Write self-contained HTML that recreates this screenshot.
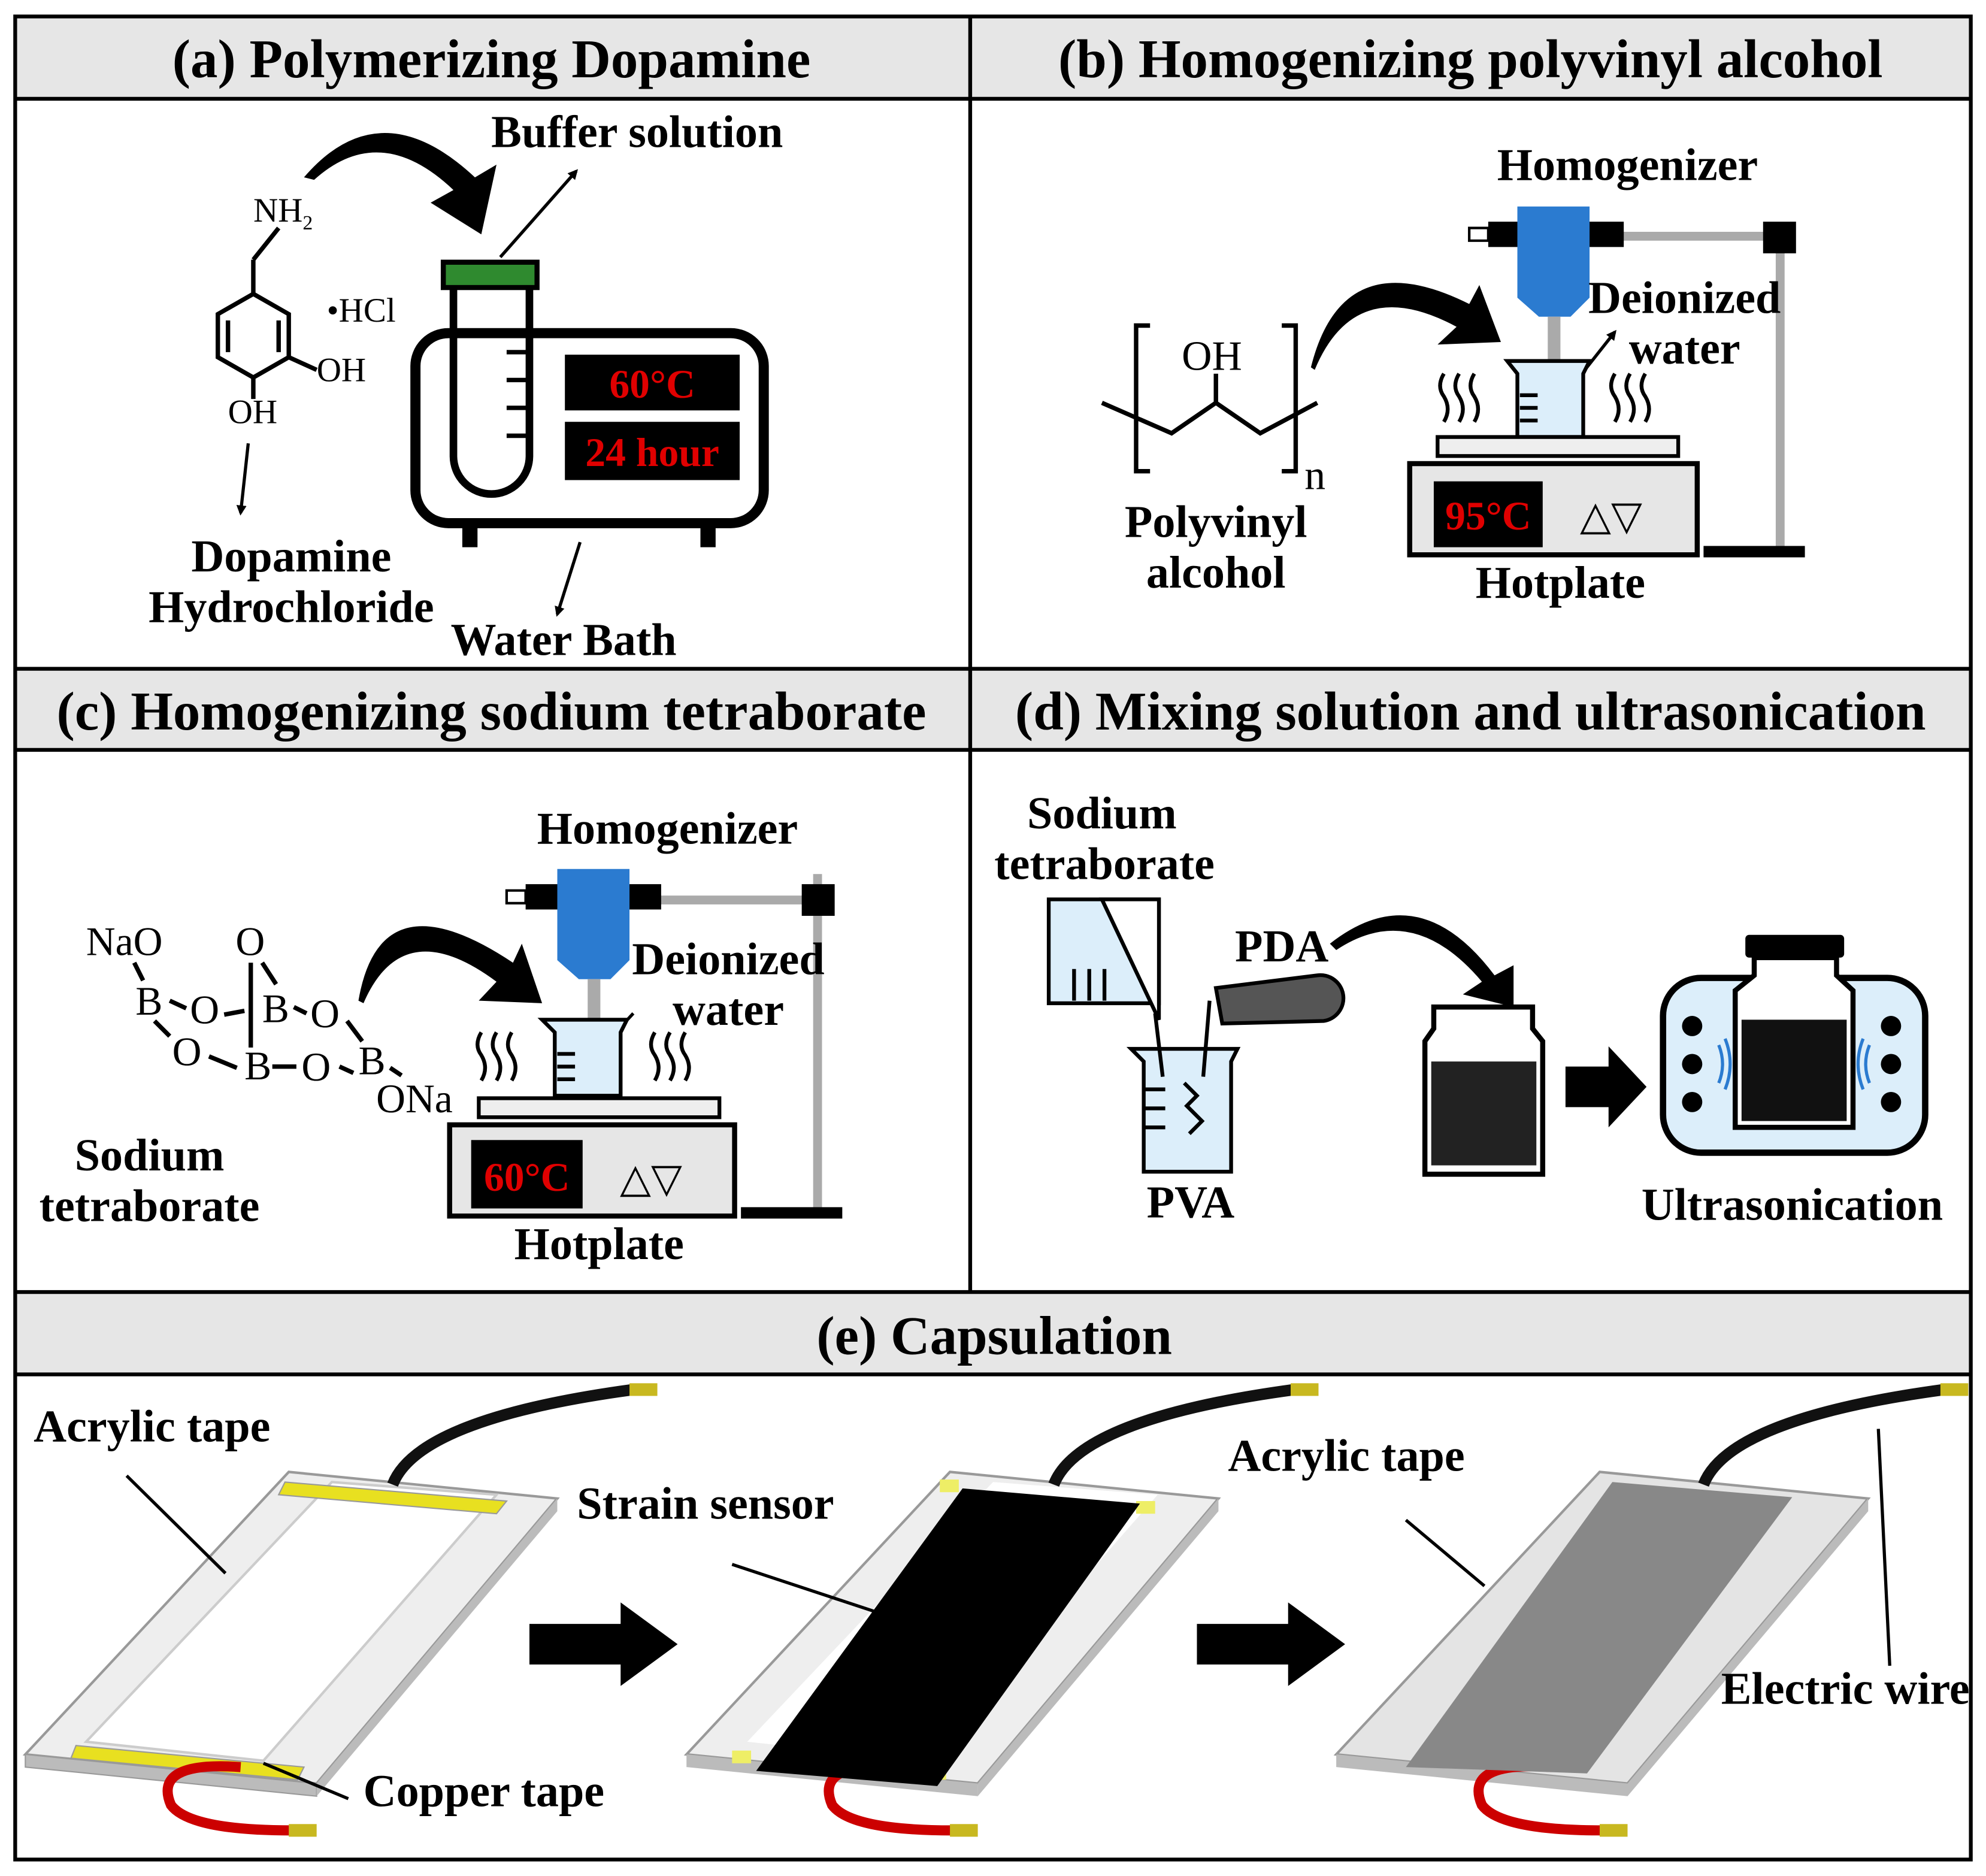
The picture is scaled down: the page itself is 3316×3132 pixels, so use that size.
<!DOCTYPE html>
<html><head><meta charset="utf-8"><style>
html,body{margin:0;padding:0;background:#fff;}
svg{display:block;}
text{font-family:"Liberation Serif",serif;font-weight:bold;fill:#000;}
.n{font-weight:normal;}
</style></head><body>
<svg width="3316" height="3132" viewBox="0 0 1568 1481" preserveAspectRatio="none" xmlns="http://www.w3.org/2000/svg">
<defs>
<marker id="ah" markerWidth="8" markerHeight="8" refX="6" refY="4" orient="auto" markerUnits="userSpaceOnUse"><path d="M0,0 L8,4 L0,8 z" fill="#000"/></marker>
</defs>
<rect x="0" y="0" width="1568" height="1481" fill="#fff"/>
<rect x="12" y="14" width="1544" height="64" fill="#e6e6e6"/>
<rect x="12" y="528" width="1544" height="64" fill="#e6e6e6"/>
<rect x="12" y="1020" width="1544" height="65" fill="#e6e6e6"/>
<g stroke="#000" stroke-width="3" fill="none">
<rect x="12" y="13" width="1544" height="1455"/>
<line x1="12" y1="78" x2="1556" y2="78"/>
<line x1="12" y1="528" x2="1556" y2="528"/>
<line x1="12" y1="592" x2="1556" y2="592"/>
<line x1="12" y1="1020" x2="1556" y2="1020"/>
<line x1="12" y1="1085" x2="1556" y2="1085"/>
<line x1="766" y1="13" x2="766" y2="1020"/>
</g>
<g font-size="43" text-anchor="middle">
<text x="388" y="61">(a) Polymerizing Dopamine</text>
<text x="1161" y="61">(b) Homogenizing polyvinyl alcohol</text>
<text x="388" y="576">(c) Homogenizing sodium tetraborate</text>
<text x="1161" y="576">(d) Mixing solution and ultrasonication</text>
<text x="785" y="1069">(e) Capsulation</text>
</g>

<!-- (a) -->
<g stroke="#000" stroke-width="3.5" fill="none">
<line x1="220" y1="180" x2="200" y2="205"/>
<line x1="200" y1="205" x2="200" y2="232"/>
<polygon points="200,232 228,248 228,282 200,298 172,282 172,248"/>
<line x1="180" y1="253" x2="180" y2="278"/>
<line x1="220" y1="253" x2="220" y2="278"/>
<line x1="228" y1="282" x2="250" y2="292"/>
<line x1="200" y1="298" x2="200" y2="315"/>
<line x1="196" y1="350" x2="190" y2="405" marker-end="url(#ah)" stroke-width="2.5"/>
<line x1="395" y1="203" x2="455" y2="135" marker-end="url(#ah)" stroke-width="2.5"/>
<line x1="458" y1="428" x2="440" y2="485" marker-end="url(#ah)" stroke-width="2.5"/>
<rect x="328" y="263" width="275" height="150" rx="26" stroke-width="8"/>
<path d="M358,225 L358,360 A30,30 0 0 0 418,360 L418,225" stroke-width="6"/>
<line x1="400" y1="278" x2="416" y2="278"/><line x1="400" y1="300" x2="416" y2="300"/><line x1="400" y1="322" x2="416" y2="322"/><line x1="400" y1="344" x2="416" y2="344"/>
</g>
<path d="M240,140 Q300,70 375,140 L392,130 L380,185 L340,160 L358,150 Q300,95 248,142 z" fill="#000"/>
<rect x="365" y="412" width="12" height="20" fill="#000"/><rect x="553" y="412" width="12" height="20" fill="#000"/>
<rect x="348" y="205" width="78" height="24" fill="#000"/><rect x="352" y="209" width="70" height="16" fill="#2f8a2f"/>
<rect x="446" y="280" width="138" height="44" fill="#000"/>
<rect x="446" y="333" width="138" height="46" fill="#000"/>
<g font-size="32" text-anchor="middle"><text x="515" y="314" style="fill:#e00000">60°C</text><text x="515" y="368" style="fill:#e00000">24 hour</text></g>
<g font-size="27">
<text x="200" y="175" class="n">NH<tspan font-size="16" dy="6">2</tspan></text>
<text x="258" y="254" class="n">•HCl</text>
<text x="250" y="301" class="n">OH</text>
<text x="180" y="334" class="n">OH</text>
</g>
<g font-size="36" text-anchor="middle">
<text x="503" y="116">Buffer solution</text>
<text x="230" y="451">Dopamine</text>
<text x="230" y="491">Hydrochloride</text>
<text x="445" y="517">Water Bath</text>
</g>

<!-- (b) -->
<g stroke="#000" stroke-width="3.5" fill="none">
<path d="M908,257 L897,257 L897,372 L908,372"/>
<path d="M1012,257 L1023,257 L1023,372 L1012,372"/>
<polyline points="870,318 925,342 960,318 995,342 1040,318"/>
<line x1="960" y1="295" x2="960" y2="318"/>
<line x1="1245" y1="300" x2="1275" y2="262" marker-end="url(#ah)" stroke-width="2.5"/>
</g>
<g font-size="33"><text x="933" y="292" class="n">OH</text><text x="1030" y="386" class="n">n</text></g>
<path d="M1035,290 Q1060,190 1160,240 L1168,225 L1185,270 L1135,272 L1150,258 Q1070,215 1038,292 z" fill="#000"/>
<rect x="1402" y="180" width="7" height="255" fill="#aaa"/>
<rect x="1345" y="431" width="80" height="9" fill="#000"/>
<rect x="1280" y="183" width="125" height="7" fill="#aaa"/>
<rect x="1392" y="175" width="26" height="25" fill="#000"/>
<rect x="1175" y="175" width="107" height="20" fill="#000"/>
<path d="M1160,180 L1175,180 L1175,190 L1160,190 z" fill="none" stroke="#000" stroke-width="2"/>
<path d="M1198,163 L1255,163 L1255,235 L1240,250 L1215,250 L1198,235 z" fill="#2b7bd0"/>
<rect x="1222" y="250" width="10" height="70" fill="#aaa"/>
<path d="M1190,285 L1255,285 L1250,295 L1250,345 L1198,345 L1198,295 z" fill="#dceefa" stroke="#000" stroke-width="3"/>
<g stroke="#000" stroke-width="3" fill="none">
<line x1="1200" y1="312" x2="1214" y2="312"/><line x1="1200" y1="322" x2="1214" y2="322"/><line x1="1200" y1="332" x2="1214" y2="332"/>
<path d="M1140,295 q-6,10 0,18 q6,10 0,20 M1152,295 q-6,10 0,18 q6,10 0,20 M1164,295 q-6,10 0,18 q6,10 0,20 M1275,295 q-6,10 0,18 q6,10 0,20 M1287,295 q-6,10 0,18 q6,10 0,20 M1299,295 q-6,10 0,18 q6,10 0,20"/>
</g>
<rect x="1135" y="345" width="190" height="15" fill="#eee" stroke="#000" stroke-width="3"/>
<rect x="1113" y="366" width="227" height="72" fill="#e6e6e6" stroke="#000" stroke-width="4"/>
<rect x="1132" y="380" width="86" height="52" fill="#000"/>
<text x="1175" y="418" font-size="32" text-anchor="middle" style="fill:#e00000">95°C</text>
<text x="1272" y="418" font-size="32" text-anchor="middle" class="n">△▽</text>
<g font-size="36" text-anchor="middle">
<text x="1285" y="142">Homogenizer</text>
<text x="1330" y="247">Deionized</text>
<text x="1330" y="287">water</text>
<text x="960" y="424">Polyvinyl</text>
<text x="960" y="464">alcohol</text>
<text x="1232" y="472">Hotplate</text>
</g>

<!-- (c) -->
<g font-size="32">
<text x="68" y="754" class="n">NaO</text><text x="186" y="754" class="n">O</text>
<text x="107" y="801" class="n">B</text><text x="150" y="808" class="n">O</text>
<text x="207" y="807" class="n">B</text><text x="245" y="811" class="n">O</text>
<text x="136" y="841" class="n">O</text><text x="193" y="852" class="n">B</text>
<text x="238" y="853" class="n">O</text><text x="283" y="848" class="n">B</text>
<text x="297" y="878" class="n">ONa</text>
</g>
<g stroke="#000" stroke-width="3.5" fill="none">
<line x1="106" y1="760" x2="113" y2="774"/>
<line x1="134" y1="790" x2="147" y2="796"/>
<line x1="198" y1="760" x2="198" y2="827"/>
<line x1="207" y1="760" x2="218" y2="777"/>
<line x1="177" y1="801" x2="193" y2="798"/>
<line x1="232" y1="795" x2="242" y2="800"/>
<line x1="122" y1="806" x2="134" y2="818"/>
<line x1="165" y1="834" x2="187" y2="843"/>
<line x1="215" y1="842" x2="234" y2="842"/>
<line x1="268" y1="842" x2="279" y2="847"/>
<line x1="274" y1="806" x2="286" y2="822"/>
<line x1="308" y1="843" x2="317" y2="849"/>
<line x1="460" y1="843" x2="500" y2="800" stroke-width="2.5"/>
</g>
<path d="M283,790 Q300,690 405,760 L412,745 L428,792 L378,790 L392,775 Q318,720 287,792 z" fill="#000"/>
<rect x="642" y="690" width="7" height="265" fill="#aaa"/>
<rect x="585" y="953" width="80" height="9" fill="#000"/>
<rect x="520" y="707" width="125" height="7" fill="#aaa"/>
<rect x="633" y="698" width="26" height="25" fill="#000"/>
<rect x="415" y="698" width="107" height="20" fill="#000"/>
<path d="M400,703 L415,703 L415,713 L400,713 z" fill="none" stroke="#000" stroke-width="2"/>
<path d="M440,686 L497,686 L497,758 L482,773 L457,773 L440,758 z" fill="#2b7bd0"/>
<rect x="464" y="773" width="10" height="70" fill="#aaa"/>
<path d="M428,805 L495,805 L490,815 L490,865 L438,865 L438,815 z" fill="#dceefa" stroke="#000" stroke-width="3"/>
<g stroke="#000" stroke-width="3" fill="none">
<line x1="440" y1="832" x2="454" y2="832"/><line x1="440" y1="842" x2="454" y2="842"/><line x1="440" y1="852" x2="454" y2="852"/>
<path d="M380,815 q-6,10 0,18 q6,10 0,20 M392,815 q-6,10 0,18 q6,10 0,20 M404,815 q-6,10 0,18 q6,10 0,20 M517,815 q-6,10 0,18 q6,10 0,20 M529,815 q-6,10 0,18 q6,10 0,20 M541,815 q-6,10 0,18 q6,10 0,20"/>
</g>
<rect x="378" y="867" width="190" height="15" fill="#eee" stroke="#000" stroke-width="3"/>
<rect x="355" y="888" width="225" height="72" fill="#e6e6e6" stroke="#000" stroke-width="4"/>
<rect x="372" y="900" width="88" height="54" fill="#000"/>
<text x="416" y="940" font-size="32" text-anchor="middle" style="fill:#e00000">60°C</text>
<text x="514" y="941" font-size="32" text-anchor="middle" class="n">△▽</text>
<g font-size="36" text-anchor="middle">
<text x="527" y="666">Homogenizer</text>
<text x="575" y="769">Deionized</text>
<text x="575" y="809">water</text>
<text x="118" y="924">Sodium</text>
<text x="118" y="964">tetraborate</text>
<text x="473" y="994">Hotplate</text>
</g>

<!-- (d) -->
<g font-size="36" text-anchor="middle">
<text x="870" y="654">Sodium</text>
<text x="872" y="694">tetraborate</text>
<text x="1012" y="759">PDA</text>
<text x="940" y="961">PVA</text>
<text x="1415" y="963">Ultrasonication</text>
</g>
<path d="M828,710 L915,710 L915,792 L828,792 z" fill="#dceefa" stroke="#000" stroke-width="3"/>
<path d="M870,710 L915,710 L915,805 z" fill="#fff" stroke="#000" stroke-width="3"/>
<g stroke="#000" stroke-width="3"><line x1="848" y1="765" x2="848" y2="790"/><line x1="860" y1="765" x2="860" y2="790"/><line x1="872" y1="765" x2="872" y2="790"/></g>
<path d="M893,828 L977,828 L972,838 L972,925 L903,925 L903,838 z" fill="#dceefa" stroke="#000" stroke-width="3"/>
<g stroke="#000" stroke-width="3" fill="none">
<line x1="903" y1="860" x2="920" y2="860"/><line x1="903" y1="875" x2="920" y2="875"/><line x1="903" y1="890" x2="920" y2="890"/>
<line x1="912" y1="800" x2="918" y2="850"/><line x1="955" y1="790" x2="950" y2="850"/>
<path d="M935,855 l10,10 l-8,8 l12,12 l-10,10"/>
</g>
<path d="M960,780 L1040,770 A18,18 0 0 1 1045,806 L965,808 z" fill="#555" stroke="#000" stroke-width="3"/>
<path d="M1050,745 Q1120,690 1180,770 L1195,762 L1195,795 L1155,785 L1170,775 Q1115,710 1055,750 z" fill="#000"/>
<path d="M1132,795 L1210,795 L1210,812 L1218,822 L1218,927 L1125,927 L1125,822 L1132,812 z" fill="#fff" stroke="#000" stroke-width="4"/>
<rect x="1130" y="838" width="83" height="82" fill="#222"/>
<path d="M1236,842 L1270,842 L1270,826 L1300,858 L1270,890 L1270,874 L1236,874 z" fill="#000"/>
<rect x="1313" y="772" width="207" height="138" rx="30" fill="#dceefa" stroke="#000" stroke-width="5"/>
<rect x="1378" y="738" width="78" height="18" rx="3" fill="#000"/>
<path d="M1385,756 L1450,756 L1450,770 L1463,782 L1463,890 L1370,890 L1370,782 L1385,770 z" fill="#fff" stroke="#000" stroke-width="4"/>
<rect x="1375" y="805" width="83" height="80" fill="#111"/>
<g fill="#000"><circle cx="1336" cy="810" r="8"/><circle cx="1336" cy="840" r="8"/><circle cx="1336" cy="870" r="8"/><circle cx="1493" cy="810" r="8"/><circle cx="1493" cy="840" r="8"/><circle cx="1493" cy="870" r="8"/></g>
<g stroke="#2b7bd0" stroke-width="2.5" fill="none"><path d="M1357,825 q6,15 0,30 M1362,820 q8,20 0,40"/><path d="M1476,825 q-6,15 0,30 M1471,820 q-8,20 0,40"/></g>

<!-- (e) -->
<g>
<polygon points="20,1385 250,1408 440,1183 228,1162" fill="#eee" stroke="#999" stroke-width="2"/>
<polygon points="20,1385 250,1408 250,1418 20,1395" fill="#bbb" stroke="#999" stroke-width="1"/>
<polygon points="250,1408 440,1183 440,1193 250,1418" fill="#bbb"/>
<polygon points="68,1375 208,1390 392,1180 262,1170" fill="#fff" stroke="#ccc" stroke-width="2"/>
</g>
<path d="M225,1170 L400,1185 L392,1195 L220,1180 z" fill="#e8e020" stroke="#999"/>
<path d="M60,1378 L240,1395 L235,1405 L56,1388 z" fill="#e8e020" stroke="#999"/>
<path d="M310,1172 Q330,1120 500,1097" stroke="#111" stroke-width="9" fill="none"/>
<rect x="497" y="1092" width="22" height="10" fill="#c8b820"/>
<path d="M190,1395 Q120,1390 135,1425 Q150,1445 230,1445" stroke="#c00" stroke-width="8" fill="none"/>
<rect x="228" y="1440" width="22" height="10" fill="#c8b820"/>

<g transform="translate(522,0)">
<polygon points="20,1385 250,1408 440,1183 228,1162" fill="#eee" stroke="#999" stroke-width="2"/>
<polygon points="20,1385 250,1408 250,1418 20,1395" fill="#bbb"/>
<polygon points="250,1408 440,1183 440,1193 250,1418" fill="#bbb"/>
<polygon points="68,1375 208,1390 392,1180 262,1170" fill="#fff"/>
<path d="M310,1172 Q330,1120 500,1097" stroke="#111" stroke-width="9" fill="none"/>
<rect x="497" y="1092" width="22" height="10" fill="#c8b820"/>
<path d="M190,1395 Q120,1390 135,1425 Q150,1445 230,1445" stroke="#c00" stroke-width="8" fill="none"/>
<rect x="228" y="1440" width="22" height="10" fill="#c8b820"/>
<rect x="56" y="1382" width="15" height="10" fill="#ee6"/><rect x="210" y="1395" width="15" height="10" fill="#ee6"/>
<rect x="220" y="1168" width="15" height="10" fill="#ee6"/><rect x="375" y="1185" width="15" height="10" fill="#ee6"/>
<polygon points="75,1398 218,1410 378,1187 238,1175" fill="#000"/>
</g>

<g transform="translate(1035,0)">
<polygon points="20,1385 250,1408 440,1183 228,1162" fill="#e4e4e4" stroke="#999" stroke-width="2"/>
<polygon points="20,1385 250,1408 250,1418 20,1395" fill="#bbb"/>
<polygon points="250,1408 440,1183 440,1193 250,1418" fill="#bbb"/>
<path d="M310,1172 Q330,1120 500,1097" stroke="#111" stroke-width="9" fill="none"/>
<rect x="497" y="1092" width="22" height="10" fill="#c8b820"/>
<path d="M190,1395 Q120,1390 135,1425 Q150,1445 230,1445" stroke="#c00" stroke-width="8" fill="none"/>
<rect x="228" y="1440" width="22" height="10" fill="#c8b820"/>
<polygon points="75,1395 218,1400 380,1182 238,1170" fill="#888"/>
</g>
<path d="M418,1282 L490,1282 L490,1265 L535,1298 L490,1331 L490,1314 L418,1314 z" fill="#000"/>
<path d="M945,1282 L1017,1282 L1017,1265 L1062,1298 L1017,1331 L1017,1314 L945,1314 z" fill="#000"/>
<g stroke="#000" stroke-width="2.5">
<line x1="100" y1="1165" x2="178" y2="1242"/>
<line x1="208" y1="1392" x2="275" y2="1420"/>
<line x1="578" y1="1235" x2="690" y2="1272"/>
<line x1="1110" y1="1200" x2="1172" y2="1252"/>
<line x1="1483" y1="1128" x2="1492" y2="1315"/>
</g>
<g font-size="36" text-anchor="middle">
<text x="120" y="1138">Acrylic tape</text>
<text x="382" y="1426">Copper tape</text>
<text x="557" y="1199">Strain sensor</text>
<text x="1063" y="1161">Acrylic tape</text>
<text x="1457" y="1345">Electric wire</text>
</g>
</svg>
</body></html>
